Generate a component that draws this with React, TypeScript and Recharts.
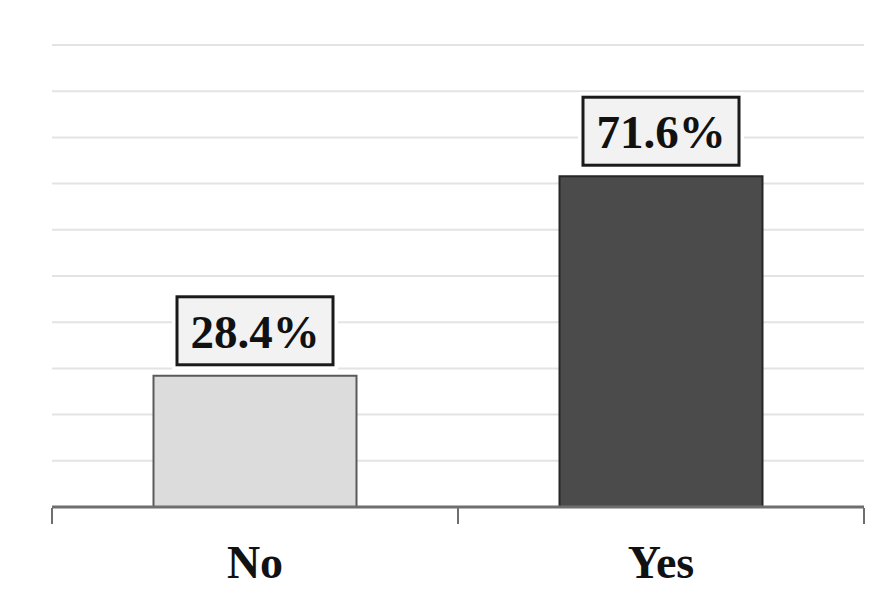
import { BarChart, Bar, XAxis, YAxis, CartesianGrid, Cell, LabelList } from "recharts";

const categories = ["No", "Yes"];
const shares = [28.4, 71.6];
const yTicks = [0, 10, 20, 30, 40, 50, 60, 70, 80, 90, 100];

const FILLS = ["#dcdcdc", "#4b4b4b"];
const STROKES = ["#5a5a5a", "#262626"];
const FONT = "'Liberation Serif', 'Times New Roman', serif";

const W = 879;
const H = 590;
const M = { top: 37, right: 23, left: 44, bottom: 0 };
const HALF_BAND = (W - M.left - M.right) / 4;

const data = categories.map((c, i) => ({ name: c, value: shares[i] }));

function CatTick({ x, y, payload, index }: any) {
  const x0 = x - HALF_BAND;
  const x1 = x + HALF_BAND;
  return (
    <g>
      <line x1={x0} x2={x0} y1={y - 7} y2={y + 9} stroke="#6e6e6e" strokeWidth={2} />
      {index === categories.length - 1 && (
        <line x1={x1} x2={x1} y1={y - 7} y2={y + 9} stroke="#6e6e6e" strokeWidth={2} />
      )}
      <text x={x} y={y + 63} textAnchor="middle" fontFamily={FONT} fontWeight="bold" fontSize={46} fill="#111">
        {payload.value}
      </text>
    </g>
  );
}

function BoxLabel({ x, y, width, value }: any) {
  const cx = x + width / 2;
  const bw = 156;
  const bh = 68;
  const bottom = y - 11;
  return (
    <g>
      <rect x={cx - bw / 2 - 5} y={bottom - bh - 5} width={bw + 10} height={bh + 10} fill="#fff" />
      <rect x={cx - bw / 2} y={bottom - bh} width={bw} height={bh} fill="#f2f2f2" stroke="#1a1a1a" strokeWidth={3} />
      <text x={cx} y={bottom - 17} textAnchor="middle" fontFamily={FONT} fontWeight="bold" fontSize={47} fill="#111">
        {`${value.toFixed(1)}%`}
      </text>
    </g>
  );
}

export default function App() {
  return (
    <BarChart width={W} height={H} data={data} margin={M} barCategoryGap="25%">
      <CartesianGrid vertical={false} stroke="#e3e3e3" strokeWidth={2} />
      <YAxis hide domain={[0, 100]} ticks={yTicks} />
      <XAxis
        dataKey="name"
        axisLine={{ stroke: "#6e6e6e", strokeWidth: 3 }}
        tickLine={false}
        tick={<CatTick />}
        height={91}
        interval={0}
      />
      <Bar dataKey="value" isAnimationActive={false} strokeWidth={2}>
        {data.map((_, i) => (
          <Cell key={i} fill={FILLS[i]} stroke={STROKES[i]} />
        ))}
        <LabelList dataKey="value" content={<BoxLabel />} />
      </Bar>
    </BarChart>
  );
}
